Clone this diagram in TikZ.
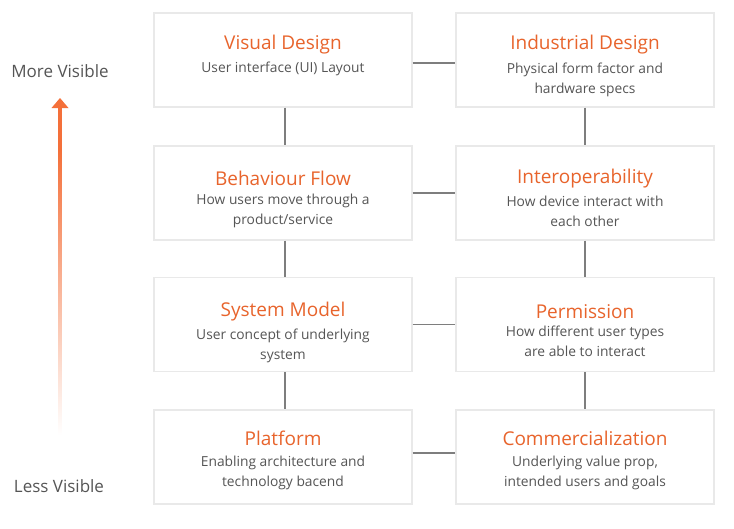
\documentclass[tikz,border=0pt]{standalone}
\usepackage{fontspec}
\setmainfont{Open Sans}
\usetikzlibrary{positioning}
\definecolor{accent}{HTML}{E8642C}
\definecolor{arrowc}{HTML}{F4703A}
\definecolor{txt}{HTML}{555555}
\definecolor{edge}{HTML}{E9E9E9}
\definecolor{linkc}{HTML}{7E7E7E}
\tikzset{
  layer/.style={draw=edge, line width=1.2pt, fill=white,
    minimum width=258pt, minimum height=94pt, inner sep=0pt},
  ttl/.style={text=accent, font=\fontsize{19}{22}\selectfont, inner sep=0pt, anchor=base},
  sub/.style={text=txt, font=\fontsize{13.8}{20}\selectfont, align=center, inner sep=0pt, anchor=base},
  link/.style={draw=linkc, line width=1.6pt},
  side/.style={text=txt, font=\fontsize{17}{20}\selectfont}}

\begin{document}
\begin{tikzpicture}[x=1pt,y=-1pt]
  \useasboundingbox (0,0) rectangle (734,528);
  % boxes
  \node[layer] (vd) at (283,60) {};
  \node[layer] (id) at (585,60) {};
  \node[layer] (bf) at (283,193) {};
  \node[layer] (io) at (585,193) {};
  \node[layer] (sm) at (283,324.5) {};
  \node[layer] (pm) at (585,324.5) {};
  \node[layer] (pf) at (283,457) {};
  \node[layer] (cm) at (585,457) {};
  % titles
  \node[ttl] (vdt) at (283,49) {Visual Design};
  \node[ttl] (idt) at (585,49) {Industrial Design};
  \node[ttl] (bft) at (283,185) {Behaviour Flow};
  \node[ttl] (iot) at (585,183) {Interoperability};
  \node[ttl] (smt) at (283,316) {System Model};
  \node[ttl] (pmt) at (585,318) {Permission};
  \node[ttl] (pft) at (283,445) {Platform};
  \node[ttl] (cmt) at (585,445) {Commercialization};
  % descriptions (base = last line)
  \node[sub] (vds) at (283,72) {User interface (UI) Layout};
  \node[sub] (ids) at (585,93) {Physical form factor and\\hardware specs};
  \node[sub] (bfs) at (283,224) {How users move through a\\product/service};
  \node[sub] (ios) at (585,226) {How device interact with\\each other};
  \node[sub] (sms) at (283,359) {User concept of underlying\\system};
  \node[sub] (pms) at (585,356) {How different user types\\are able to interact};
  \node[sub] (pfs) at (283,486) {Enabling architecture and\\technology bacend};
  \node[sub] (cms) at (585,486) {Underlying value prop,\\intended users and goals};
  % connectors
  \draw[link] ([yshift=-3pt]vd.east) -- ([yshift=-3pt]id.west);
  \draw[link] (bf.east) -- (io.west);
  \draw[link] (sm.east) -- (pm.west);
  \draw[link] ([yshift=4pt]pf.east) -- ([yshift=4pt]cm.west);
  \draw[link] ([xshift=2pt]vd.south) -- ([xshift=2pt]bf.north);
  \draw[link] ([xshift=2pt]bf.south) -- ([xshift=2pt]sm.north);
  \draw[link] ([xshift=2pt]sm.south) -- ([xshift=2pt]pf.north);
  \draw[link] (id.south) -- (io.north);
  \draw[link] (io.south) -- (pm.north);
  \draw[link] (pm.south) -- (cm.north);
  % visibility scale
  \node[side] (more) at (60,71) {More Visible};
  \node[side] (less) at (59,486) {Less Visible};
  \coordinate (tip) at (60,98);
  \fill[arrowc] (58.2,106) rectangle (61.8,150);
  \shade[top color=arrowc, bottom color=white] (58.2,149.5) rectangle (61.8,435);
  \fill[arrowc] (tip) -- (68.5,108) -- (51.5,108) -- cycle;
\end{tikzpicture}
\end{document}
